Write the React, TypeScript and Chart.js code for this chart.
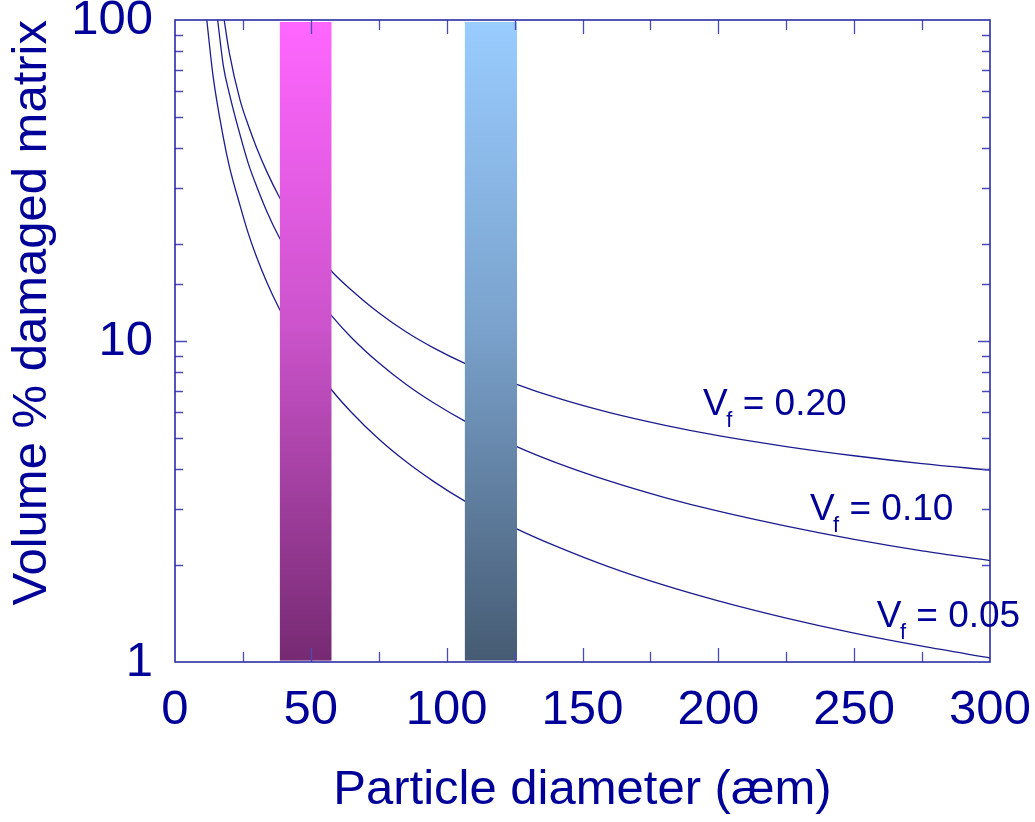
import React, { useEffect, useRef } from 'react';
import { Chart, registerables } from 'chart.js';

Chart.register(...registerables);

// ---- Data ----
const diam020 = [18.1, 20, 23.9, 27, 30, 34, 38.4, 45, 50, 57.6, 65, 75, 85, 95, 106.7, 125.8, 140, 160, 180, 200, 225, 250, 275, 300];
const vol020 = [100, 79, 56.5, 46.9, 40.1, 33.4, 28.1, 22.7, 19.8, 16.5, 14.4, 12.25, 10.69, 9.54, 8.52, 7.33, 6.67, 5.98, 5.47, 5.07, 4.69, 4.39, 4.15, 3.96];

const diam010 = [15.7, 17.8, 20, 23.9, 27, 30, 34, 38.4, 45, 50, 57.6, 65, 75, 85, 95, 106.7, 125.8, 140, 160, 180, 200, 225, 250, 275, 300];
const vol010 = [100, 72, 59, 44, 35.7, 30.4, 25.1, 21.0, 16.75, 14.49, 12.0, 10.24, 8.55, 7.33, 6.43, 5.63, 4.69, 4.19, 3.66, 3.26, 2.95, 2.65, 2.41, 2.22, 2.07];

const diam005 = [11.7, 14, 17.8, 20, 23.9, 27, 30, 34, 38.4, 45, 50, 57.9, 65, 75, 85, 95, 106.7, 125.8, 140, 160, 180, 200, 225, 250, 275, 300];
const vol005 = [100, 67, 43, 35.0, 26.5, 21.6, 18.3, 15.1, 12.6, 9.99, 8.6, 7.0, 5.99, 4.95, 4.21, 3.66, 3.17, 2.6, 2.3, 1.975, 1.735, 1.55, 1.37, 1.23, 1.12, 1.03];

// Shaded particle-size bands (x ranges) and their vertical extent
const bandStart = [38.6, 106.7];
const bandEnd = [57.6, 125.9];
const bandLow = 1.01;
const bandHigh = 98.6;
const bandColors = [
  ['#FF66FF', '#CB53CB', '#762A72'],
  ['#99CCFF', '#7AA2CC', '#465B73'],
];

// Curve labels (anchored in data units)
const labelValues = ['0.20', '0.10', '0.05'];
const labelX = [194.4, 233.7, 258.3];
const labelY = [5.88, 2.77, 1.288];

// Axes
const xMin = 0;
const xMax = 300;
const xTickStep = 25;
const xLabelStep = 50;
const yMin = 1;
const yMax = 100;
const yLabelValues = [1, 10, 100];
const xTitle = 'Particle diameter (æm)';
const yTitle = 'Volume % damaged matrix';

const TEXT = '#000099';
const LINE = '#1c1c8e';
const FRAME = '#2c2ca8';
const TICK = '#4a4ab8';
const FAMILY = '"Liberation Sans", Arial, Helvetica, sans-serif';

const pts = (xs: number[], ys: number[]) => xs.map((x, i) => ({ x, y: ys[i] }));

const decorPlugin = {
  id: 'decor',
  afterDatasetsDraw(chart: any) {
    const { ctx, scales } = chart;
    const x = scales.x;
    const y = scales.y;
    ctx.save();
    bandStart.forEach((s, i) => {
      const x0 = x.getPixelForValue(s);
      const x1 = x.getPixelForValue(bandEnd[i]);
      const y0 = y.getPixelForValue(bandHigh);
      const y1 = y.getPixelForValue(bandLow);
      const g = ctx.createLinearGradient(0, y0, 0, y1);
      g.addColorStop(0, bandColors[i][0]);
      g.addColorStop(0.48, bandColors[i][1]);
      g.addColorStop(1, bandColors[i][2]);
      ctx.fillStyle = g;
      ctx.fillRect(x0, y0, x1 - x0, y1 - y0);
    });
    ctx.restore();
  },
  afterDraw(chart: any) {
    const { ctx, chartArea, scales } = chart;
    const x = scales.x;
    const y = scales.y;
    const { left, right, top, bottom } = chartArea;
    ctx.save();
    // ticks (inside, all four sides)
    ctx.strokeStyle = TICK;
    ctx.lineWidth = 1.3;
    x.ticks.forEach((t: any) => {
      const v = t.value;
      if (v <= xMin || v >= xMax) return;
      const px = Math.round(x.getPixelForValue(v)) + 0.5;
      const len = v % xLabelStep === 0 ? 14 : 10;
      ctx.beginPath();
      ctx.moveTo(px, bottom);
      ctx.lineTo(px, bottom - len);
      ctx.moveTo(px, top);
      ctx.lineTo(px, top + len);
      ctx.stroke();
    });
    y.ticks.forEach((t: any) => {
      const v = t.value;
      if (v <= yMin || v >= yMax) return;
      const py = Math.round(y.getPixelForValue(v)) + 0.5;
      const lg = Math.log10(v);
      const major = Math.abs(lg - Math.round(lg)) < 1e-9;
      const len = major ? 12 : 8;
      ctx.beginPath();
      ctx.moveTo(left, py);
      ctx.lineTo(left + len, py);
      ctx.moveTo(right, py);
      ctx.lineTo(right - len, py);
      ctx.stroke();
    });
    // frame
    ctx.strokeStyle = FRAME;
    ctx.lineWidth = 1.6;
    ctx.strokeRect(left, top, right - left, bottom - top);

    // curve labels
    ctx.fillStyle = TEXT;
    ctx.textAlign = 'left';
    ctx.textBaseline = 'alphabetic';
    labelValues.forEach((txt, i) => {
      const px = x.getPixelForValue(labelX[i]);
      const py = y.getPixelForValue(labelY[i]);
      ctx.font = `37px ${FAMILY}`;
      ctx.fillText('V', px, py);
      const vw = ctx.measureText('V').width;
      ctx.font = `22px ${FAMILY}`;
      const fx = px + vw - 1.5;
      ctx.fillText('f', fx, py + 12);
      const fw = ctx.measureText('f').width;
      ctx.font = `37px ${FAMILY}`;
      ctx.fillText(' = ' + txt, fx + fw, py);
    });
    ctx.restore();
  },
};

export default function App() {
  const canvasRef = useRef<HTMLCanvasElement | null>(null);

  useEffect(() => {
    const canvas = canvasRef.current;
    if (!canvas) return;
    const lineDs = (data: any[]) => ({
      data,
      borderColor: LINE,
      backgroundColor: LINE,
      borderWidth: 1.3,
      pointRadius: 0,
      cubicInterpolationMode: 'monotone' as const,
      fill: false,
    });
    const chart = new Chart(canvas, {
      type: 'line',
      data: {
        datasets: [
          lineDs(pts(diam020, vol020)),
          lineDs(pts(diam010, vol010)),
          lineDs(pts(diam005, vol005)),
        ],
      },
      options: {
        responsive: false,
        animation: false,
        devicePixelRatio: 1,
        layout: { padding: { top: 20, right: 45, left: 0, bottom: 0 } },
        plugins: {
          legend: { display: false },
          tooltip: { enabled: false },
        },
        scales: {
          x: {
            type: 'linear',
            min: xMin,
            max: xMax,
            grid: { display: false, drawTicks: false },
            border: { display: false },
            ticks: {
              stepSize: xTickStep,
              autoSkip: false,
              maxRotation: 0,
              minRotation: 0,
              padding: 19,
              color: TEXT,
              font: { family: FAMILY, size: 49 },
              callback: (v: any) => (Number(v) % xLabelStep === 0 ? String(v) : ''),
            },
            title: {
              display: true,
              text: xTitle,
              color: TEXT,
              font: { family: FAMILY, size: 49 },
              padding: { top: 0, bottom: 2 },
            },
            afterFit: (s: any) => {
              s.height = 160;
              s.paddingLeft = 0;
              s.paddingRight = 0;
            },
          },
          y: {
            type: 'logarithmic',
            min: yMin,
            max: yMax,
            grid: { display: false, drawTicks: false },
            border: { display: false },
            ticks: {
              autoSkip: false,
              padding: 22,
              color: TEXT,
              font: { family: FAMILY, size: 49 },
              callback: (v: any) => {
                const n = Number(v);
                return yLabelValues.some((m) => Math.abs(m - n) < 1e-9) ? String(n) : '';
              },
            },
            title: {
              display: true,
              text: yTitle,
              align: 'end',
              color: TEXT,
              font: { family: FAMILY, size: 49 },
              padding: { top: 3, bottom: 0 },
            },
            afterFit: (s: any) => {
              s.width = 175;
              s.paddingTop = 0;
              s.paddingBottom = 0;
            },
          },
        },
      } as any,
      plugins: [decorPlugin],
    });
    return () => chart.destroy();
  }, []);

  return (
    <div style={{ position: 'fixed', left: 0, top: 0, width: 1035, height: 822, background: '#fff' }}>
      <canvas ref={canvasRef} width={1035} height={822} style={{ display: 'block' }} />
    </div>
  );
}
